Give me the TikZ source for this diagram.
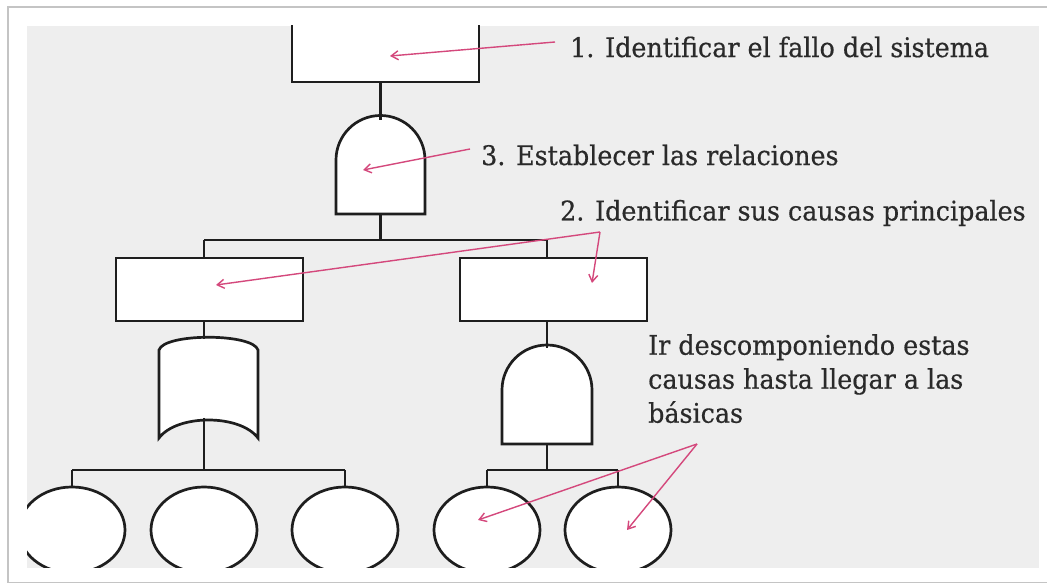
\documentclass[tikz,border=0pt]{standalone}
\usepackage{fontspec}
\setmainfont{DejaVu Serif}[FakeStretch=0.94,FakeBold=0.5]
\usetikzlibrary{arrows.meta,shapes.geometric}
\definecolor{panel}{HTML}{EEEEEE}
\definecolor{framec}{HTML}{C4C4C4}
\definecolor{pinkc}{HTML}{D4487C}
\definecolor{ink}{HTML}{1E1E1E}
\definecolor{textc}{HTML}{2A2A2A}
\tikzset{
  gate/.style={draw=ink, line width=2.7pt, fill=white, line join=miter},
  wire/.style={draw=ink, line width=2.7pt},
  event/.style={draw=ink, line width=2.7pt, fill=white, rectangle, inner sep=0pt},
  basic/.style={draw=ink, line width=2.7pt, fill=white, ellipse, inner sep=0pt, minimum width=106pt, minimum height=86pt},
  note/.style={font=\fontsize{27}{34}\selectfont, text=textc, inner sep=0pt, anchor=west, align=left},
  callout/.style={draw=pinkc, line width=1.4pt},
  tip/.style={-{Straight Barb[length=7pt,width=9pt,line width=1.4pt]}}
}
\begin{document}
\begin{tikzpicture}[x=1pt,y=1pt]
\useasboundingbox (0,0) rectangle (1047,586);
% frame
\fill[white] (0,0) rectangle (1047,586);
\draw[framec, line width=1.5pt] (8,3.5) rectangle (1048,579);
\fill[panel] (27,18) rectangle (1039,560);
\begin{scope}
\clip (27,18) rectangle (1039,560);
% top event
\node[event, minimum width=187pt, minimum height=80pt] (top) at (385.5,544) {};
% AND gate 1
\path[gate] (336,372) -- (336,426) arc[start angle=180,end angle=0,radius=44.5] -- (425,372) -- cycle;
\coordinate (g1n) at (380.5,466);
\coordinate (g1s) at (380.5,372);
\draw[wire] (top.south -| g1n) -- (g1n);
% bus 1
\coordinate (b1) at (380.5,346);
\draw[wire] (g1s) -- (b1);
% intermediate events
\node[event, minimum width=187pt, minimum height=63pt] (L) at (209.5,296.5) {};
\node[event, minimum width=187pt, minimum height=63pt] (R) at (553.5,296.5) {};
\coordinate (Lc) at (204,265);
\coordinate (Rc) at (547,265);
\draw[wire] (Lc |- b1) -- (Rc |- b1);
\draw[wire] (Lc |- b1) -- (Lc |- L.north);
\draw[wire] (Rc |- b1) -- (Rc |- R.north);
% OR gate
\path[gate] (159,148) -- (159,236) .. controls (164,253) and (253,253) .. (258,236) -- (258,148) .. controls (240,172) and (177,172) .. (159,148) -- cycle;
\coordinate (orn) at (204,247);
\coordinate (ors) at (204,168);
\draw[wire] (Lc) -- (orn);
% AND gate 2
\path[gate] (502,142) -- (502,196) arc[start angle=180,end angle=0,radius=45] -- (592,142) -- cycle;
\coordinate (g2n) at (547,238);
\coordinate (g2s) at (547,142);
\draw[wire] (Rc) -- (g2n);
% basic events
\node[basic] (e1) at (72,56) {};
\node[basic] (e2) at (204,56) {};
\node[basic] (e3) at (345,56) {};
\node[basic] (e4) at (487,56) {};
\node[basic] (e5) at (618,56) {};
\coordinate (b2) at (204,116);
\coordinate (b3) at (547,116);
\draw[wire] (ors) -- (b2);
\draw[wire] (e1.north |- b2) -- (e3.north |- b2);
\draw[wire] (e1.north |- b2) -- (e1.north);
\draw[wire] (e3.north |- b2) -- (e3.north);
\draw[wire] (g2s) -- (b3);
\draw[wire] (e4.north |- b3) -- (e5.north |- b3);
\draw[wire] (e4.north |- b3) -- (e4.north);
\draw[wire] (e5.north |- b3) -- (e5.north);
\end{scope}
% notes
\node[note] (t1) at (570,539) {1. Identificar el fallo del sistema};
\node[note] (t3) at (481,431) {3. Establecer las relaciones};
\node[note] (t2) at (560,373) {2. Identificar sus causas principales};
\node[note, anchor=north west] (t4) at (648,252) {Ir descomponiendo estas\\causas hasta llegar a las\\básicas};
% callouts
\coordinate (a1s) at (555,544);
\coordinate (a1e) at (390,530);
\draw[callout, tip] (a1s) -- (a1e);
\coordinate (a3s) at (470,437);
\coordinate (a3e) at (363,416);
\draw[callout, tip] (a3s) -- (a3e);
\coordinate (j2) at (600,354);
\coordinate (a2l) at (216,301);
\coordinate (a2r) at (592,303);
\draw[callout, tip] (j2) -- (a2l);
\draw[callout, tip] (j2) -- (a2r);
\coordinate (j4) at (697,142);
\coordinate (a4l) at (478,66);
\coordinate (a4r) at (627,56);
\draw[callout, tip] (j4) -- (a4l);
\draw[callout, tip] (j4) -- (a4r);
\end{tikzpicture}
\end{document}
